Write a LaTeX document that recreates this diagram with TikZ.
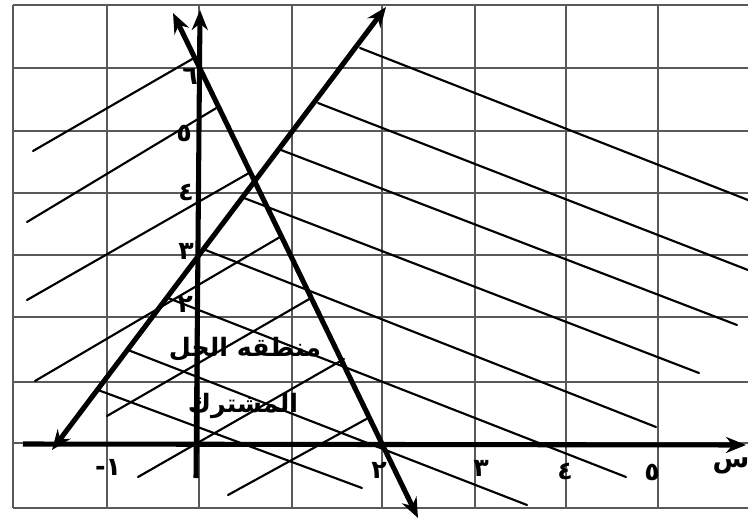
\documentclass[tikz,border=0pt]{standalone}
\usepackage{fontspec}
\usetikzlibrary{arrows.meta}
\TeXXeTstate=1
\newfontfamily\arabicfont[Script=Arabic]{DejaVu Sans}
\begin{document}
\begin{tikzpicture}[x=0.75pt,y=-0.75pt,
  gridline/.style={draw=black!65, line width=0.8pt},
  hatch/.style={draw=black, line width=1.6pt, line cap=round},
  boldline/.style={draw=black, line width=3.8pt},
  arr/.style={-{Stealth[length=15pt,width=12pt]}},
  arr2/.style={{Stealth[length=15pt,width=12pt]}-{Stealth[length=15pt,width=12pt]}},
  num/.style={font=\arabicfont\bfseries\fontsize{19}{19}\selectfont, inner sep=0pt},
  title/.style={font=\arabicfont\bfseries\fontsize{19}{19}\selectfont, inner sep=0pt}]
\useasboundingbox (0,0) rectangle (748,520);
\fill[white] (0,0) rectangle (748,520);
% grid
\foreach \x in {13,107,199,292,382,475,566,658} \draw[gridline] (\x,5) -- (\x,508);
\foreach \y in {5,68,131,193,255,317,382,443,508} \draw[gridline] (13,\y) -- (748,\y);
% hatching, positive slope (ending on line 1)
\draw[hatch] (33,151) -- (194,58);
\draw[hatch] (27,222) -- (218,107);
\draw[hatch] (27,300) -- (249,173);
\draw[hatch] (35,381) -- (280,237);
\draw[hatch] (107,416) -- (311,298);
\draw[hatch] (138,477) -- (344,359);
\draw[hatch] (228,495) -- (370,417);
% hatching, negative slope (starting on line 2)
\draw[hatch] (360,48) -- (748,200);
\draw[hatch] (318,103) -- (748,270);
\draw[hatch] (281,150) -- (737,325);
\draw[hatch] (244,198) -- (699,373);
\draw[hatch] (203,249) -- (656,427);
\draw[hatch] (168,298) -- (626,477);
\draw[hatch] (128,350) -- (527,505);
\draw[hatch] (98,390) -- (362,488);
% axes
\coordinate (xs) at (23,444);
\coordinate (xe) at (746,445);
\coordinate (ys) at (196,478);
\coordinate (ye) at (200,10);
\draw[boldline, arr] (xs) -- (xe);
\draw[boldline, arr] (ys) -- (ye);
% the two lines
\coordinate (a1) at (173,13);
\coordinate (a2) at (418,518);
\coordinate (b1) at (386,7);
\coordinate (b2) at (52,450);
\draw[boldline, arr2] (a1) -- (a2);
\draw[boldline, arr2] (b1) -- (b2);
% y labels
\node[num] (y6) at (190,76) {٦};
\node[num] (y5) at (184,133) {٥};
\node[num] (y4) at (186,192) {٤};
\node[num] (y3) at (186,251) {٣};
\node[num] (y2) at (185,304) {٢};
% x labels
\node[num] (xm1) at (108,467) {١-};
\node[num] (x2) at (379,470) {٢};
\node[num] (x3) at (481,468) {٣};
\node[num] (x4) at (565,471) {٤};
\node[num] (x5) at (652,472) {٥};
\node[num, font=\arabicfont\bfseries\fontsize{20}{20}\selectfont] (xlab) at (731,466) {س};
% region label
\node[title] (t1) at (245,349) {\beginR منطقه الحل\endR};
\node[title] (t2) at (243,406) {\beginR المشترك\endR};
\end{tikzpicture}
\end{document}
